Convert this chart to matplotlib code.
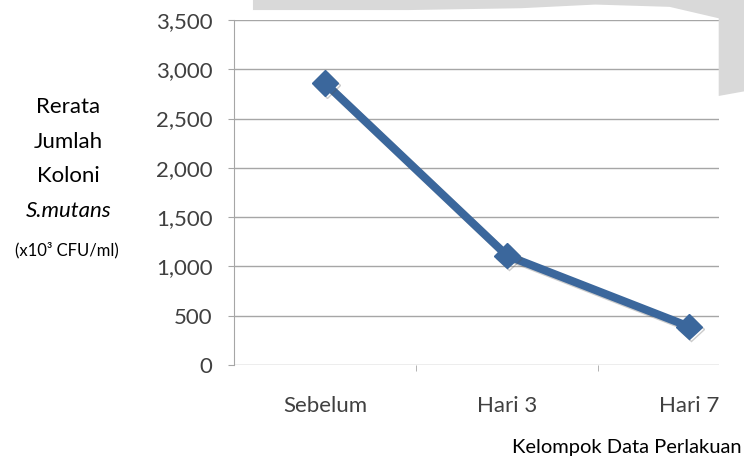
import matplotlib
matplotlib.use("Agg")
import matplotlib.pyplot as plt
import matplotlib.patheffects as pe
from matplotlib.patches import Polygon
from matplotlib.ticker import FuncFormatter, FixedLocator

plt.rcParams["font.family"] = ["Lato", "DejaVu Sans"]

# mean colony count per treatment group (x10^3 CFU/ml)
groups = ["Sebelum", "Hari 3", "Hari 7"]
koloni = [2860, 1110, 390]
y_ticks = [0, 500, 1000, 1500, 2000, 2500, 3000, 3500]

line_color = "#3b679c"
grid_color = "#a6a6a6"
text_color = "#404040"

fig = plt.figure(figsize=(7.44, 4.57), dpi=100)

# faint watermark shapes behind the chart
wm = "#d9d9d9"
fig.patches.append(Polygon([(0.34, 1.0), (1.0, 1.0), (1.0, 0.80), (0.966, 0.79),
                            (0.966, 0.96), (0.90, 0.985), (0.80, 0.99),
                            (0.70, 0.982), (0.55, 0.978), (0.34, 0.978)],
                           closed=True, transform=fig.transFigure,
                           facecolor=wm, edgecolor="none", zorder=0))

ax = fig.add_axes([0.3145, 0.2013, 0.652, 0.7549])
ax.set_facecolor("white")

x = list(range(len(groups)))
ax.plot(x, koloni, color=line_color, linewidth=5.8, marker="D",
        markersize=13, markerfacecolor=line_color, markeredgecolor=line_color,
        solid_joinstyle="miter", zorder=3,
        path_effects=[pe.SimpleLineShadow(offset=(1.5, -1.5), alpha=0.3,
                                          shadow_color="#555555"),
                      pe.Normal()])

ax.set_ylim(0, 3500)
ax.set_xlim(-0.5, 2.165)
ax.yaxis.set_major_locator(FixedLocator(y_ticks))
ax.yaxis.set_major_formatter(FuncFormatter(lambda v, p: f"{int(v):,}"))
ax.grid(axis="y", color=grid_color, linewidth=1.0)
ax.set_axisbelow(True)

# category labels sit in the middle of each slot, ticks on the boundaries
ax.set_xticks(x)
ax.set_xticklabels(groups)
ax.set_xticks([0.5, 1.5], minor=True)
ax.tick_params(axis="x", which="major", length=0, pad=22,
               labelsize=16, labelcolor=text_color)
ax.tick_params(axis="x", which="minor", length=4.3, color=grid_color,
               direction="out")
ax.tick_params(axis="y", length=4.3, color=grid_color, labelsize=16,
               labelcolor=text_color, pad=11)

for side in ["top", "right", "bottom"]:
    ax.spines[side].set_visible(False)
ax.spines["left"].set_color(grid_color)

# left-hand axis title, stacked line by line
left_x = 0.092
fig.text(left_x, 1 - 107 / 457, "Rerata", ha="center", va="center", fontsize=16)
fig.text(left_x, 1 - 142 / 457, "Jumlah", ha="center", va="center", fontsize=16)
fig.text(left_x, 1 - 176 / 457, "Koloni", ha="center", va="center", fontsize=16)
fig.text(left_x, 1 - 211 / 457, "S.mutans", ha="center", va="center",
         fontsize=16, style="italic")
fig.text(0.0905, 1 - 250 / 457, "(x10³ CFU/ml)", ha="center",
         va="center", fontsize=12)

fig.text(0.997, 1 - 447 / 457, "Kelompok Data Perlakuan", ha="right",
         va="center", fontsize=14.5)

fig.savefig("out.png", dpi=100)
